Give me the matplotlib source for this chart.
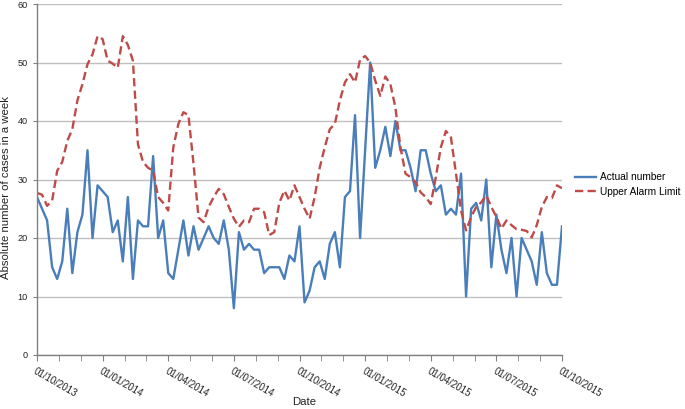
import numpy as np
from matplotlib import pyplot as plt

# weekly counts
actual = [27, 25, 23, 15, 13, 16, 25, 14, 21, 24,
          35, 20, 29, 28, 27, 21, 23, 16, 27, 13,
          23, 22, 22, 34, 20, 23, 14, 13, 18, 23,
          17, 22, 18, 20, 22, 20, 19, 23, 18, 8,
          21, 18, 19, 18, 18, 14, 15, 15, 15, 13,
          17, 16, 22, 9, 11, 15, 16, 13, 19, 21,
          15, 27, 28, 41, 20, 35, 50, 32, 35, 39,
          34, 40, 35, 35, 32, 28, 35, 35, 31, 28,
          29, 24, 25, 24, 31, 10, 25, 26, 23, 30,
          15, 24, 18, 14, 20, 10, 20, 18, 16, 12,
          21, 14, 12, 12, 22]

upper = [27.7, 27.4, 25.5, 26.4, 31.5, 33.0, 36.6, 38.6, 43.5, 46.3,
         49.7, 51.4, 54.5, 54.0, 50.3, 49.8, 49.1, 54.5, 53.0, 50.3,
         36.0, 33.0, 32.0, 31.5, 27.0, 26.0, 24.7, 35.5, 39.5, 41.5,
         41.0, 32.7, 23.5, 22.7, 25.3, 27.0, 28.4, 27.5, 25.3, 23.3,
         21.9, 23.0, 22.7, 25.0, 25.0, 24.4, 20.5, 21.0, 26.0, 28.1,
         26.4, 29.0, 27.0, 25.0, 23.3, 27.0, 32.0, 35.5, 38.6, 39.5,
         43.5, 46.6, 48.0, 46.6, 50.5, 51.1, 50.0, 46.9, 44.3, 47.6,
         46.3, 42.3, 35.5, 31.0, 30.4, 29.5, 27.8, 27.0, 25.8, 30.4,
         35.5, 38.3, 37.2, 31.0, 24.7, 21.3, 23.6, 25.3, 26.1, 27.3,
         25.3, 23.6, 21.6, 23.0, 22.2, 21.5, 21.4, 21.2, 20.1, 22.2,
         25.3, 27.0, 26.8, 29.0, 28.5]

date_labels = ['01/10/2013', '01/01/2014', '01/04/2014', '01/07/2014',
               '01/10/2014', '01/01/2015', '01/04/2015', '01/07/2015',
               '01/10/2015']

plt.rcParams['font.family'] = ['Liberation Sans', 'DejaVu Sans']

weeks = np.arange(len(actual))
last = weeks[-1]

fig = plt.figure(figsize=(6.85, 4.09), dpi=100)
ax = fig.add_axes([37 / 685, 1 - 355 / 409, 525 / 685, 351 / 409])

ax.plot(weeks, actual, color='#4a7ebb', lw=1.7, label='Actual number')
ax.plot(weeks, upper, color='#be4b48', lw=1.7, dashes=(3.5, 1.8),
        label='Upper Alarm Limit')

ax.set_xlim(0, last)
ax.set_ylim(0, 60)
ax.set_yticks(range(0, 61, 10))
ax.set_xticks(np.linspace(0, last, len(date_labels)))
ax.set_xticks(np.linspace(0, last, 25), minor=True)
ax.set_xticklabels(date_labels, rotation=-30, ha='left', va='top',
                   rotation_mode='anchor', fontsize=7, color='#222222')
ax.tick_params(axis='y', labelsize=6.6, labelcolor='#222222', length=3,
               color='#808080')
ax.tick_params(axis='x', which='both', length=4, color='#808080', pad=4)

ax.grid(axis='y', color='#c0c0c0', lw=1)
ax.set_axisbelow(True)
for s in ['top', 'right']:
    ax.spines[s].set_visible(False)
for s in ['left', 'bottom']:
    ax.spines[s].set_color('#808080')
    ax.spines[s].set_linewidth(1)

ax.set_xlabel('Date', fontsize=8.2, color='#222222')
ax.xaxis.set_label_coords(0.508, -0.12)
ax.set_ylabel('Absolute number of cases in a week', fontsize=8.2,
              color='#222222')
ax.yaxis.set_label_coords(-0.05, 0.477)

ax.legend(loc='center left', bbox_to_anchor=(575 / 685, 1 - 184.5 / 409),
          bbox_transform=fig.transFigure, frameon=False, fontsize=7.3,
          handlelength=2.1, handletextpad=0.4, labelspacing=0.4,
          borderpad=0, borderaxespad=0)

plt.savefig('out.png', dpi=100)
